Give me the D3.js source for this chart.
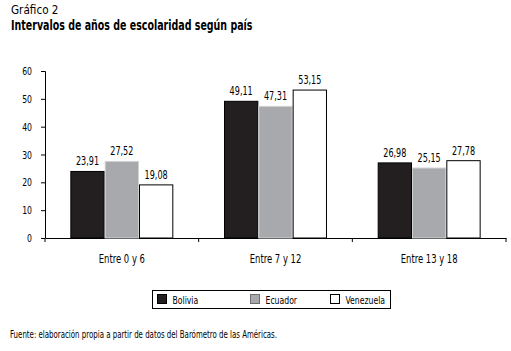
<!DOCTYPE html>
<html>
<head>
<meta charset="utf-8">
<script src="https://cdn.jsdelivr.net/npm/d3@7"></script>
<style>
  body { margin: 0; background: #fff; }
  text { font-family: "DejaVu Sans Condensed", "Liberation Sans", sans-serif; fill: #000; }
</style>
</head>
<body>
<div id="chart"></div>
<script>
// data
const categories = ['Entre 0 y 6', 'Entre 7 y 12', 'Entre 13 y 18'];
const series = ['Bolivia', 'Ecuador', 'Venezuela'];
const bolivia = [23.91, 49.11, 26.98];
const ecuador = [27.52, 47.31, 25.15];
const venezuela = [19.08, 53.15, 27.78];
const yTicks = [0, 10, 20, 30, 40, 50, 60];

const values = [bolivia, ecuador, venezuela];
const fills = ['#231f20', '#a7a9ac', '#ffffff'];
const strokes = ['#000', '#d0d2d3', '#000'];

const width = 511, height = 351;
const margin = { top: 71, right: 5, bottom: 113, left: 45 };
const w = width - margin.left - margin.right;
const h = height - margin.top - margin.bottom;

const svg = d3.select('#chart')
    .append('svg')
    .attr('width', width)
    .attr('height', height);

svg.append('text')
    .attr('class', 'wide')
    .attr('x', 11).attr('y', 14)
    .style('font-size', '12.5px')
    .text('Gráfico 2');

svg.append('text')
    .attr('x', 11).attr('y', 30)
    .style('font-size', '13.5px')
    .style('font-weight', 'bold')
    .text('Intervalos de años de escolaridad según país');

const g = svg.append('g')
    .attr('transform', `translate(${margin.left},${margin.top})`);

const x0 = d3.scaleBand()
    .domain(categories)
    .range([0, w])
    .paddingInner(0)
    .paddingOuter(0);

const x1 = d3.scaleBand()
    .domain(series)
    .range([x0.bandwidth() * 0.165, x0.bandwidth() * 0.835]);

const y = d3.scaleLinear()
    .domain([0, 60])
    .range([h, 0]);

// y axis
const yAxis = g.append('g')
    .call(d3.axisLeft(y).tickValues(yTicks).tickSize(4).tickPadding(9));
yAxis.selectAll('text').style('font-size', '11px');
yAxis.select('.domain').attr('d', `M-4,0.5H0.5V${h}`);

// x axis
const xAxis = g.append('g')
    .attr('transform', `translate(0,${h})`)
    .call(d3.axisBottom(x0).tickSize(0).tickPadding(16));
xAxis.selectAll('text').style('font-size', '12px');
xAxis.selectAll('.tick line').remove();
xAxis.selectAll('.sep')
    .data(d3.range(categories.length + 1))
    .enter()
    .append('line')
    .attr('x1', i => i * x0.step())
    .attr('x2', i => i * x0.step())
    .attr('y1', 0).attr('y2', 4)
    .attr('stroke', '#000');

// bars
const groups = g.selectAll('.grp')
    .data(categories)
    .enter()
    .append('g')
    .attr('transform', d => `translate(${x0(d)},0)`);

groups.selectAll('rect')
    .data((c, ci) => series.map((s, si) => ({ s, si, v: values[si][ci] })))
    .enter()
    .append('rect')
    .attr('x', d => x1(d.s) + 0.5)
    .attr('y', d => y(d.v))
    .attr('width', x1.bandwidth() - 1)
    .attr('height', d => h - y(d.v))
    .attr('fill', d => fills[d.si])
    .attr('stroke', d => strokes[d.si])
    .attr('stroke-width', 1);

groups.selectAll('.lbl')
    .data((c, ci) => series.map((s, si) => ({ s, si, v: values[si][ci] })))
    .enter()
    .append('text')
    .attr('x', d => x1(d.s) + x1.bandwidth() / 2)
    .attr('y', d => y(d.v) - 6)
    .attr('text-anchor', 'middle')
    .style('font-size', '11.5px')
    .text(d => d.v.toFixed(2).replace('.', ','));

// legend
const legend = svg.append('g').attr('transform', 'translate(152.5,290.5)');
legend.append('rect')
    .attr('width', 238).attr('height', 18)
    .attr('fill', 'none').attr('stroke', '#000');
const legendX = [5, 98, 178];
series.forEach((s, i) => {
    legend.append('rect')
        .attr('x', legendX[i]).attr('y', 4)
        .attr('width', 9).attr('height', 9)
        .attr('fill', fills[i])
        .attr('stroke', i === 1 ? '#6d6e70' : '#000');
    legend.append('text')
        .attr('x', legendX[i] + 15).attr('y', 13)
        .style('font-size', '11px')
        .text(s);
});

svg.append('text')
    .attr('x', 10).attr('y', 338)
    .style('font-size', '10px')
    .text('Fuente: elaboración propia a partir de datos del Barómetro de las Américas.');

// squeeze all text to look like the condensed face of the original
svg.selectAll('text').each(function () {
    const len = this.getComputedTextLength();
    const f = this.classList.contains('wide') ? 0.93 : 0.78;
    d3.select(this)
        .attr('textLength', len * f)
        .attr('lengthAdjust', 'spacingAndGlyphs');
});
</script>
</body>
</html>
